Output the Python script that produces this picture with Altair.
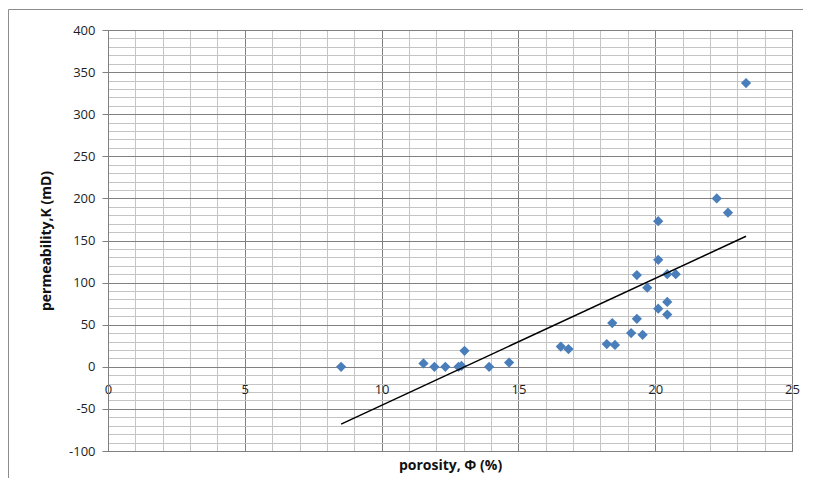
import altair as alt
import pandas as pd

# Data
porosity = [8.52, 11.53, 11.93, 12.33, 12.81, 12.92, 13.03, 13.93, 14.66,
            16.55, 16.83, 18.23, 18.53, 18.43, 19.12, 19.54, 19.33, 19.33,
            19.71, 20.11, 20.11, 20.11, 20.44, 20.44, 20.44, 20.75, 22.25,
            22.66, 23.32]
permeability = [0, 4, 0, 0, 0, 1, 19, 0, 5,
                24, 21, 27, 26, 52, 40, 38, 57, 109,
                94, 69, 127, 173, 77, 62, 110, 110, 200,
                183, 337]
trend_x = [8.52, 23.32]
trend_y = [-68, 155]

x_major = [0, 5, 10, 15, 20, 25]
x_minor = list(range(0, 26, 1))
y_minor = list(range(-100, 401, 10))

pts = pd.DataFrame({"porosity": porosity, "perm": permeability})
trend = pd.DataFrame({"porosity": trend_x, "perm": trend_y})

FONT = "Open Sans"
MAJOR = "#808080"
MINOR = "#c4c4c4"
LABEL = "#1e1e1e"

xscale = alt.Scale(domain=[0, 25], nice=False, zero=False)
yscale = alt.Scale(domain=[-100, 400], nice=False, zero=False)

points = alt.Chart(pts).mark_point(
    shape="diamond", filled=True, size=105, color="#4a7ebb", opacity=1
).encode(
    x=alt.X("porosity:Q", scale=xscale, axis=alt.Axis(
        orient="bottom", values=x_minor, grid=True,
        gridColor={"condition": {"test": "datum.value % 5 === 0", "value": MAJOR}, "value": MINOR},
        gridWidth=1, labels=False, ticks=False, domain=False,
        title="porosity,  Φ (%)", titleFont=FONT, titleFontSize=14,
        titleFontWeight="bold", titleColor="#111", titlePadding=7)),
    y=alt.Y("perm:Q", scale=yscale, axis=alt.Axis(
        values=y_minor, grid=True,
        gridColor={"condition": {"test": "datum.value % 50 === 0", "value": MAJOR}, "value": MINOR},
        gridWidth=1,
        labelExpr="datum.value % 50 === 0 ? '' + datum.value : ''",
        labelOverlap=False, labelFont=FONT, labelFontSize=13, labelColor=LABEL,
        labelPadding=7,
        ticks=True, tickSize=6,
        tickColor={"condition": {"test": "datum.value % 50 === 0", "value": MAJOR}, "value": "transparent"},
        domain=True, domainColor=MAJOR,
        title="permeability,K (mD)", titleFont=FONT, titleFontSize=14,
        titleFontWeight="bold", titleColor="#111", titleX=-62, titleBaseline="middle")),
)

line = alt.Chart(trend).mark_line(color="black", strokeWidth=1.5).encode(
    x=alt.X("porosity:Q", scale=xscale, axis=alt.Axis(
        orient="bottom", values=x_major, grid=False, ticks=False, domain=False,
        offset=-84, labelPadding=16, labelFlush=False, labelOverlap=False,
        labelFont=FONT, labelFontSize=13, labelColor=LABEL, title=None)),
    y=alt.Y("perm:Q", scale=yscale, axis=None),
)

frame = alt.Data(values=[{}])
border_top = alt.Chart(frame).mark_rule(color="#8c8c8c", strokeWidth=1).encode(
    x=alt.value(-99.5), x2=alt.value(695), y=alt.value(-20.5)
)
border_left = alt.Chart(frame).mark_rule(color="#8c8c8c", strokeWidth=1).encode(
    x=alt.value(-99.5), y=alt.value(-20.5), y2=alt.value(448)
)

chart = alt.layer(border_top, border_left, points, line).resolve_axis(
    x="independent", y="independent"
).properties(
    width=684, height=421,
    autosize=alt.AutoSizeParams(type="none"),
    padding={"left": 100, "top": 22, "right": 12, "bottom": 28},
    background="white",
).configure_view(stroke=MAJOR, strokeWidth=1)

chart.save("out.html", embed_options={"renderer": "svg", "actions": False})
